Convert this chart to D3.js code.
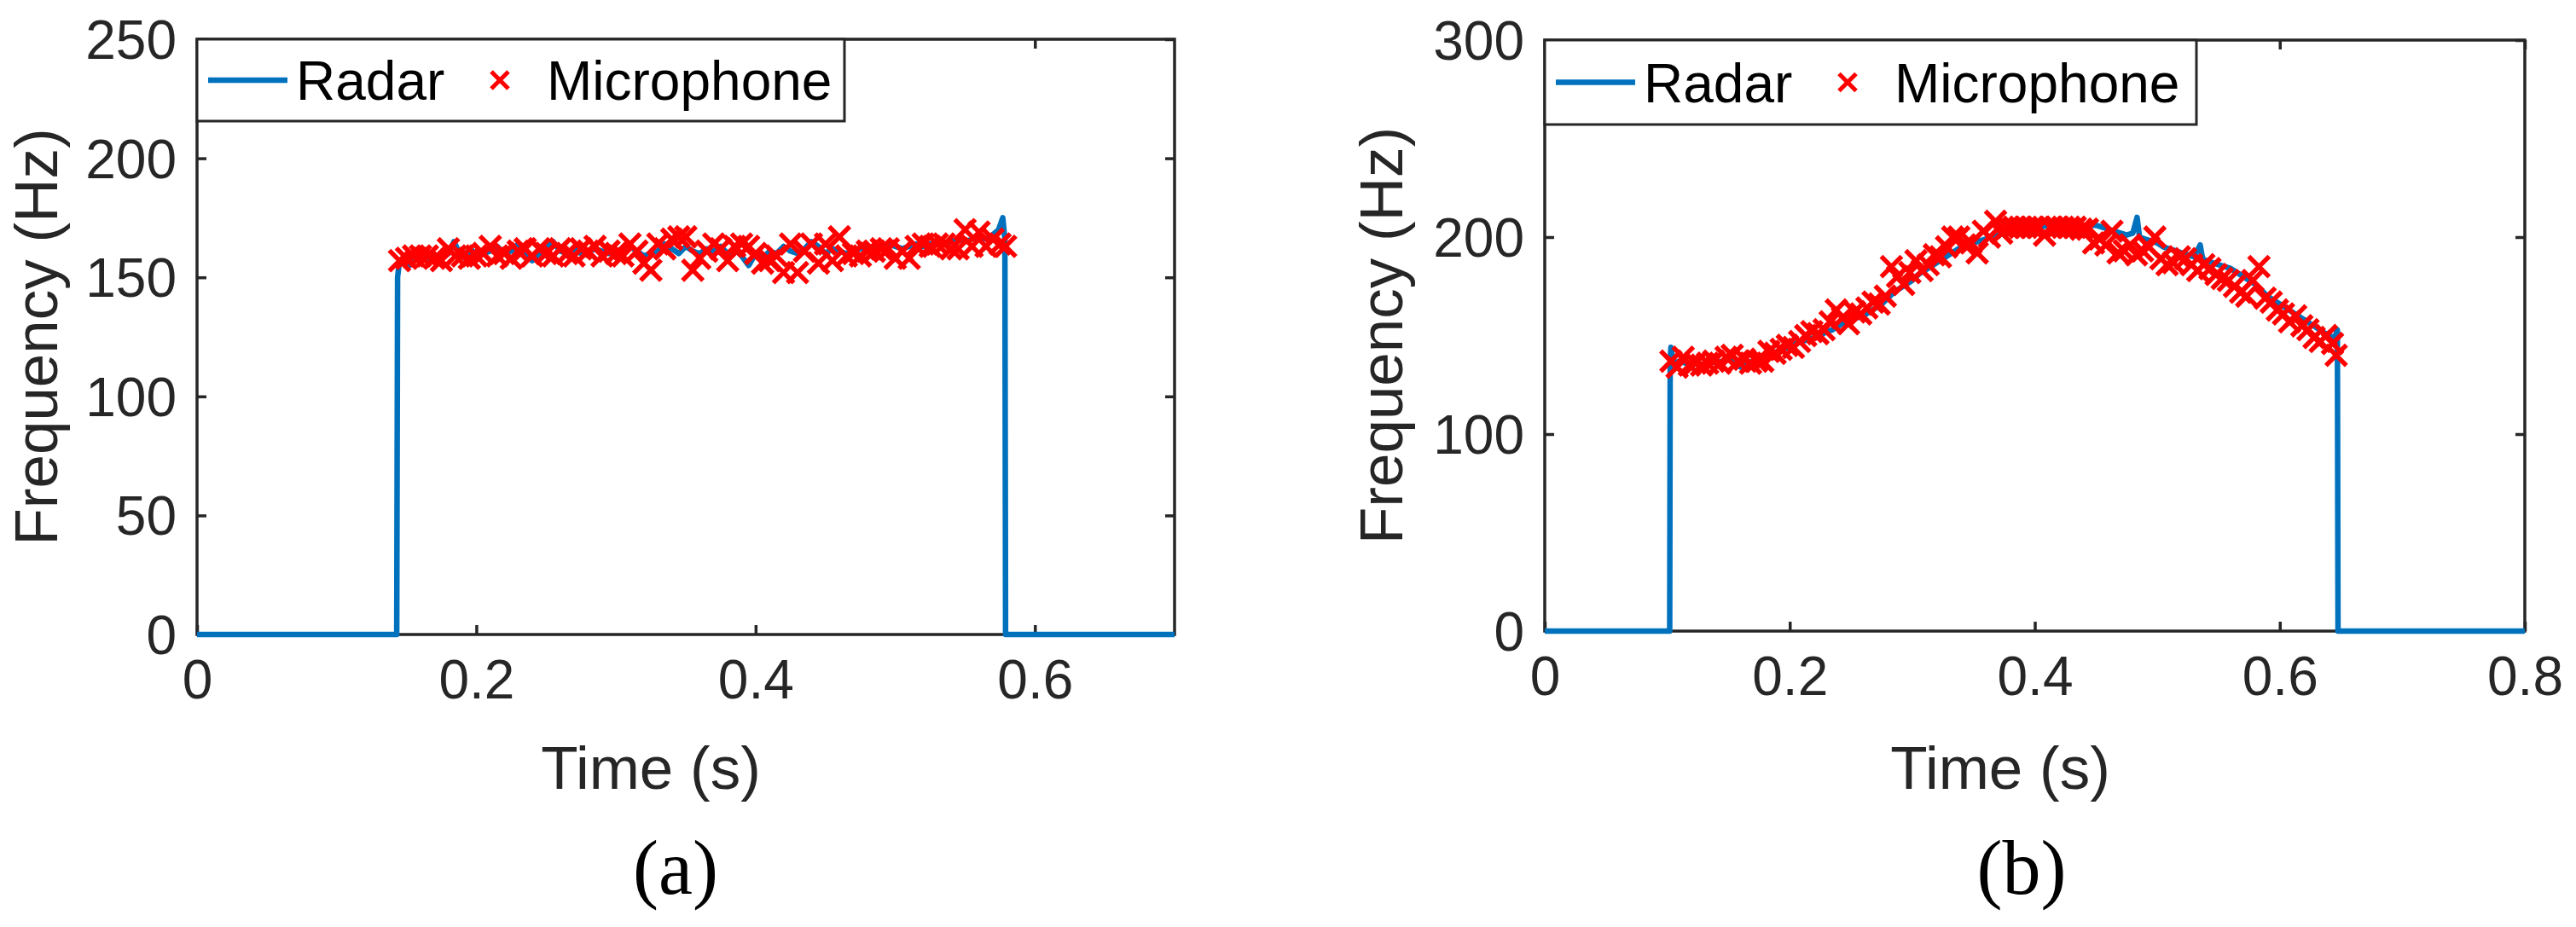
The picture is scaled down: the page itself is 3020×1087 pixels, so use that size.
<!DOCTYPE html>
<html>
<head>
<meta charset="utf-8">
<script src="https://cdn.jsdelivr.net/npm/d3@7"></script>
<style>
html,body{margin:0;padding:0;background:#fff;}
svg{display:block;}
</style>
</head>
<body>
<svg id="chart" width="3020" height="1087"></svg>
<script>
// ---------------- DATA ----------------
// Panel (a)
const radarA_t = [0,0.1430,0.1436,0.145,0.148,0.152,0.156,0.160,0.165,0.170,0.175,0.180,0.184,0.188,0.192,0.196,0.200,0.205,0.210,0.215,0.220,0.225,0.230,0.235,0.240,0.245,0.250,0.255,0.260,0.265,0.270,0.275,0.280,0.285,0.290,0.295,0.300,0.305,0.310,0.315,0.320,0.325,0.330,0.335,0.340,0.345,0.350,0.355,0.360,0.365,0.370,0.375,0.380,0.385,0.390,0.395,0.400,0.405,0.410,0.415,0.420,0.425,0.430,0.435,0.440,0.445,0.450,0.455,0.460,0.465,0.470,0.475,0.480,0.485,0.490,0.495,0.500,0.505,0.510,0.515,0.520,0.525,0.530,0.535,0.540,0.545,0.550,0.555,0.560,0.565,0.570,0.574,0.577,0.5785,0.5790,0.7];
const radarA_f = [0,0,150,157,158,155,158,159,157,159,158,160,165,160,158,162,159,160,161,163,160,161,164,161,157,160,162,165,161,160,162,160,161,162,161,160,161,162,163,161,159,160,161,164,162,160,163,161,160,162,161,163,160,162,159,155,160,158,161,160,163,161,160,162,165,163,160,162,161,160,161,162,163,162,163,164,163,162,163,164,163,164,165,164,165,166,165,166,167,166,168,170,175,166,0,0];
const micA_t = [0.145,0.150,0.155,0.160,0.165,0.170,0.175,0.180,0.185,0.190,0.195,0.200,0.205,0.210,0.215,0.220,0.225,0.230,0.235,0.240,0.245,0.250,0.255,0.260,0.265,0.270,0.275,0.280,0.285,0.290,0.295,0.300,0.305,0.310,0.315,0.320,0.325,0.330,0.335,0.340,0.345,0.350,0.355,0.360,0.365,0.370,0.375,0.380,0.385,0.390,0.395,0.400,0.405,0.410,0.415,0.420,0.425,0.430,0.435,0.440,0.445,0.450,0.455,0.460,0.465,0.470,0.475,0.480,0.485,0.490,0.495,0.500,0.505,0.510,0.515,0.520,0.525,0.530,0.535,0.540,0.545,0.550,0.555,0.560,0.565,0.570,0.575,0.579];
const micA_f = [157,158,159,159,159,158,157,162,159,159,158,159,160,163,159,160,158,161,162,159,162,160,159,162,160,159,162,161,163,159,161,160,159,164,161,156,153,164,162,166,167,167,153,158,161,164,162,157,163,164,163,160,156,157,159,152,164,152,161,164,156,164,157,167,159,160,159,161,161,162,162,158,161,158,163,164,163,164,164,162,162,170,163,169,163,166,164,163];
const xTicksA = [0,0.2,0.4,0.6];
const yTicksA = [0,50,100,150,200,250];

// Panel (b)
const radarB_t = [0,0.1020,0.1024,0.1030,0.105,0.110,0.115,0.120,0.125,0.130,0.135,0.140,0.145,0.150,0.155,0.160,0.165,0.170,0.175,0.180,0.185,0.190,0.195,0.200,0.205,0.210,0.215,0.220,0.225,0.230,0.235,0.240,0.245,0.250,0.255,0.260,0.265,0.270,0.275,0.280,0.285,0.290,0.295,0.300,0.305,0.310,0.315,0.320,0.325,0.330,0.335,0.340,0.345,0.350,0.355,0.360,0.365,0.370,0.375,0.380,0.385,0.390,0.395,0.400,0.405,0.410,0.415,0.420,0.425,0.430,0.435,0.440,0.445,0.450,0.455,0.460,0.465,0.470,0.475,0.480,0.4835,0.4855,0.490,0.495,0.500,0.505,0.510,0.515,0.520,0.525,0.530,0.535,0.537,0.540,0.545,0.550,0.555,0.560,0.565,0.570,0.575,0.580,0.585,0.590,0.595,0.600,0.605,0.610,0.615,0.620,0.625,0.630,0.635,0.640,0.645,0.6470,0.6475,0.8];
const radarB_f = [0,0,138,144,136,137,136,135,136,135,137,136,137,138,136,134,136,137,138,140,141,142,143,145,146,147,148,149,150,152,153,155,157,158,159,160,162,164,166,169,172,174,176,178,181,183,185,187,189,191,193,195,196,197,198,199,200,201,202,203,203,204,204,205,205,206,207,208,207,208,207,206,206,206,205,204,203,202,201,202,210,200,199,198,197,195,194,193,192,191,190,196,189,188,187,186,185,184,182,180,178,176,173,170,168,166,164,162,160,158,156,154,152,150,149,153,0,0];
const micB_t = [0.103,0.108,0.113,0.118,0.123,0.128,0.133,0.138,0.143,0.148,0.153,0.158,0.163,0.168,0.173,0.178,0.183,0.188,0.193,0.198,0.203,0.208,0.213,0.218,0.223,0.228,0.233,0.238,0.243,0.248,0.253,0.258,0.263,0.268,0.273,0.278,0.283,0.288,0.293,0.298,0.303,0.308,0.313,0.318,0.323,0.328,0.333,0.338,0.343,0.348,0.353,0.358,0.363,0.368,0.373,0.378,0.383,0.388,0.393,0.398,0.403,0.408,0.413,0.418,0.423,0.428,0.433,0.438,0.443,0.448,0.453,0.458,0.463,0.468,0.473,0.478,0.483,0.488,0.493,0.498,0.503,0.508,0.513,0.518,0.523,0.528,0.533,0.538,0.543,0.548,0.553,0.558,0.563,0.568,0.573,0.578,0.583,0.588,0.593,0.598,0.603,0.608,0.613,0.618,0.623,0.628,0.633,0.638,0.643,0.646];
const micB_f = [137,134,139,135,136,135,136,137,136,139,140,137,138,136,137,137,142,141,143,145,144,147,150,152,151,153,157,163,159,156,162,161,164,167,166,170,185,180,176,182,188,183,186,191,190,195,200,200,196,197,192,203,200,208,202,205,205,205,205,205,205,201,205,205,205,205,205,204,204,197,199,196,203,192,193,196,191,193,195,200,189,186,187,190,189,186,183,186,184,181,179,178,175,172,170,178,185,169,167,163,161,157,160,155,153,149,147,150,146,140];
const xTicksB = [0,0.2,0.4,0.6,0.8];
const yTicksB = [0,100,200,300];

const legendLabels = ["Radar","Microphone"];
const xLabelText = "Time (s)";
const yLabelText = "Frequency (Hz)";

// ---------------- DRAWING ----------------
const svg = d3.select("#chart");
const AX = "#262626", BLUE = "#0072BD", RED = "#FF0000";
const FONT = "Arial, 'Liberation Sans', Helvetica, sans-serif";

function drawPanel(p) {
  const g = svg.append("g");
  const x = d3.scaleLinear().domain(p.xDomain).range([p.left, p.right]);
  const y = d3.scaleLinear().domain(p.yDomain).range([p.bottom, p.top]);
  const tickLen = 11;

  // axes box
  g.append("rect").attr("x", p.left).attr("y", p.top)
    .attr("width", p.right - p.left).attr("height", p.bottom - p.top)
    .attr("fill", "none").attr("stroke", AX).attr("stroke-width", 3.5);

  // ticks (inward, all four sides)
  const bottomAxis = d3.axisBottom(x).tickValues(p.xTicks).tickSize(-tickLen).tickPadding(30)
    .tickFormat(d => d === 0 ? "0" : d3.format(".1f")(d));
  const topAxis = d3.axisTop(x).tickValues(p.xTicks).tickSize(-tickLen).tickFormat("");
  const leftAxis = d3.axisLeft(y).tickValues(p.yTicks).tickSize(-tickLen).tickPadding(24).tickFormat(d3.format("d"));
  const rightAxis = d3.axisRight(y).tickValues(p.yTicks).tickSize(-tickLen).tickFormat("");

  function styleAxis(sel) {
    sel.select(".domain").remove();
    sel.selectAll(".tick line").attr("stroke", AX).attr("stroke-width", 3.5);
    sel.selectAll(".tick text").attr("fill", AX).style("font-family", FONT).style("font-size", "64px");
  }
  g.append("g").attr("transform", `translate(0,${p.bottom})`).call(bottomAxis).call(styleAxis)
    .selectAll(".tick text").attr("dy", "0.71em");
  g.append("g").attr("transform", `translate(0,${p.top})`).call(topAxis).call(styleAxis);
  g.append("g").attr("transform", `translate(${p.left},0)`).call(leftAxis).call(styleAxis)
    .selectAll(".tick text").attr("dy", "0.35em");
  g.append("g").attr("transform", `translate(${p.right},0)`).call(rightAxis).call(styleAxis);

  // radar line
  const line = d3.line().x((d, i) => x(p.radarT[i])).y((d, i) => y(p.radarF[i]));
  g.append("path").datum(p.radarT).attr("d", line)
    .attr("fill", "none").attr("stroke", BLUE).attr("stroke-width", 6.5)
    .attr("stroke-linejoin", "round");

  // microphone markers (x)
  const m = 12;
  const cross = `M${-m},${-m}L${m},${m}M${-m},${m}L${m},${-m}`;
  g.append("g").selectAll("path.mic").data(p.micT).join("path")
    .attr("class", "mic")
    .attr("transform", (d, i) => `translate(${x(p.micT[i])},${y(p.micF[i])})`)
    .attr("d", cross).attr("fill", "none").attr("stroke", RED).attr("stroke-width", 5.5);

  // axis labels
  g.append("text").attr("x", p.xLabelX).attr("y", 925).attr("text-anchor", "middle")
    .attr("fill", AX).style("font-family", FONT).style("font-size", "71px").text(xLabelText);
  g.append("text").attr("transform", `translate(${p.yLabelX},${(p.top + p.bottom) / 2}) rotate(-90)`)
    .attr("text-anchor", "middle").attr("fill", AX).style("font-family", FONT).style("font-size", "71px")
    .text(yLabelText);

  // legend
  const lg = g.append("g");
  lg.append("rect").attr("x", p.left).attr("y", p.top)
    .attr("width", p.legW).attr("height", p.legH)
    .attr("fill", "#fff").attr("stroke", AX).attr("stroke-width", 3);
  const ly = p.top + p.legH / 2;
  lg.append("line").attr("x1", p.left + 13).attr("x2", p.left + 106).attr("y1", ly).attr("y2", ly)
    .attr("stroke", BLUE).attr("stroke-width", 6.5);
  lg.append("text").attr("x", p.left + 116).attr("y", ly + 23).attr("fill", "#000")
    .style("font-family", FONT).style("font-size", "64px").text(legendLabels[0]);
  const lm = 10;
  lg.append("path").attr("transform", `translate(${p.left + 355},${ly})`)
    .attr("d", `M${-lm},${-lm}L${lm},${lm}M${-lm},${lm}L${lm},${-lm}`)
    .attr("fill", "none").attr("stroke", RED).attr("stroke-width", 5);
  lg.append("text").attr("x", p.left + 410).attr("y", ly + 23).attr("fill", "#000")
    .style("font-family", FONT).style("font-size", "64px").text(legendLabels[1]);

  // panel caption
  svg.append("text").attr("x", p.capX).attr("y", 1048).attr("text-anchor", "middle")
    .attr("fill", "#000").style("font-family", "'Times New Roman', 'Liberation Serif', serif")
    .style("font-size", "90px").text(p.caption);
}

drawPanel({
  left: 231, right: 1377, top: 46, bottom: 744,
  xDomain: [0, 0.7], yDomain: [0, 250], xTicks: xTicksA, yTicks: yTicksA,
  radarT: radarA_t, radarF: radarA_f, micT: micA_t, micF: micA_f,
  legW: 759, legH: 96, xLabelX: 763, yLabelX: 67, capX: 792, caption: "(a)"
});
drawPanel({
  left: 1811, right: 2960, top: 47, bottom: 740,
  xDomain: [0, 0.8], yDomain: [0, 300], xTicks: xTicksB, yTicks: yTicksB,
  radarT: radarB_t, radarF: radarB_f, micT: micB_t, micF: micB_f,
  legW: 764, legH: 99, xLabelX: 2345, yLabelX: 1644, capX: 2370, caption: "(b)"
});
</script>
</body>
</html>
